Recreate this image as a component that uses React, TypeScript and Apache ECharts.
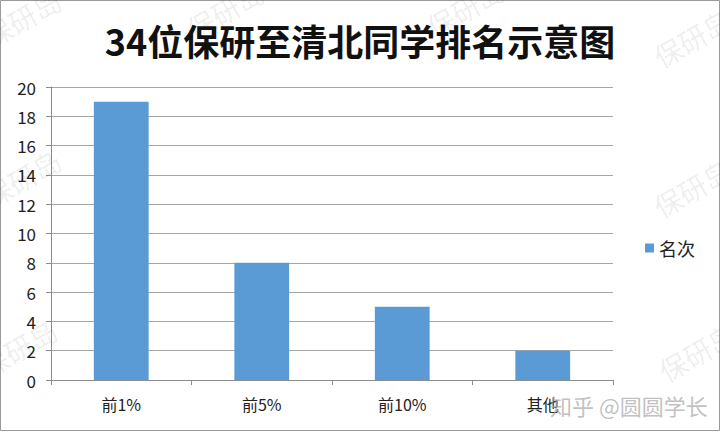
import React, { useEffect, useRef } from "react";
import * as echarts from "echarts";

const categories = ["前1%", "前5%", "前10%", "其他"];
const values = [19, 8, 5, 2];
const seriesName = "名次";
const titleText = "34位保研至清北同学排名示意图";
const watermark = "保研岛";
const credit = "知乎 @圆圆学长";
const watermarkSpots: [number, number][] = [
  [22, 18], [225, 10], [465, 8], [692, 38],
  [22, 178], [692, 188], [18, 348], [697, 352],
];

export default function App() {
  const ref = useRef<HTMLDivElement>(null);
  useEffect(() => {
    document.body.style.margin = "0";
    const chart = echarts.init(ref.current!, null, { renderer: "svg" });
    const font = "'Noto Sans CJK SC', sans-serif";
    chart.setOption({
      animation: false,
      backgroundColor: "#ffffff",
      textStyle: { fontFamily: font },
      title: {
        text: titleText,
        left: "center",
        top: 17,
        textStyle: { fontSize: 36, fontWeight: "bold", color: "#111", fontFamily: font },
      },
      legend: {
        data: [seriesName],
        orient: "vertical",
        left: 640,
        top: 234,
        icon: "rect",
        itemWidth: 9,
        itemHeight: 9,
        itemGap: 6,
        textStyle: { fontSize: 18, color: "#222", fontFamily: font },
      },
      grid: { left: 51, right: 107, top: 87, bottom: 52 },
      xAxis: {
        type: "category",
        data: categories,
        axisLine: { lineStyle: { color: "#8c8c8c", width: 1 } },
        axisTick: { show: true, length: 5, alignWithLabel: false, lineStyle: { color: "#8c8c8c" } },
        axisLabel: { fontSize: 16, color: "#222", margin: 16, fontFamily: font },
      },
      yAxis: {
        type: "value",
        min: 0,
        max: 20,
        interval: 2,
        axisLine: { show: true, lineStyle: { color: "#8c8c8c", width: 1 } },
        axisTick: { show: true, length: 5, lineStyle: { color: "#8c8c8c" } },
        axisLabel: { fontSize: 17, color: "#222", margin: 15, fontFamily: font },
        splitLine: { lineStyle: { color: "#a6a6a6", width: 1 } },
      },
      series: [
        {
          name: seriesName,
          type: "bar",
          data: values,
          barWidth: "39%",
          itemStyle: { color: "#5b9bd5" },
        },
      ],
      graphic: [
        {
          type: "rect",
          shape: { x: 0.5, y: 0.5, width: 719, height: 430 },
          style: { fill: "none", stroke: "#9a9a9a", lineWidth: 1 },
          silent: true,
        },
        ...watermarkSpots.map(([x, y]) => ({
          type: "text",
          x,
          y,
          rotation: Math.PI / 6,
          silent: true,
          z: 100,
          style: {
            text: watermark,
            fontSize: 28,
            fontFamily: font,
            fill: "rgba(0,0,0,0.08)",
            align: "center",
            verticalAlign: "middle",
          },
        })),
        {
          type: "text",
          x: 550,
          y: 405,
          silent: true,
          z: 100,
          style: {
            text: credit,
            fontSize: 22,
            fontFamily: font,
            fill: "rgba(165,165,165,0.7)",
            verticalAlign: "middle",
          },
        },
      ],
    });
    return () => chart.dispose();
  }, []);
  return <div ref={ref} style={{ width: 720, height: 432 }} />;
}
